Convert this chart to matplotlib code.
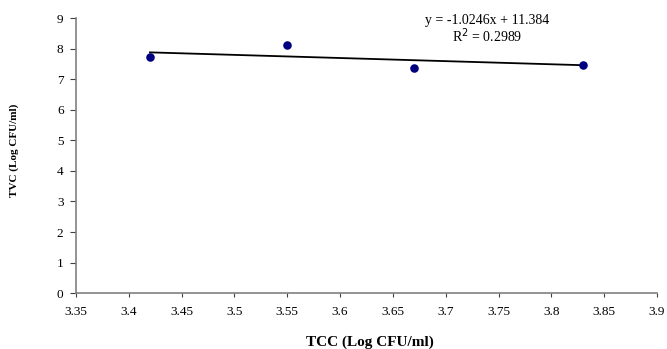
import matplotlib
matplotlib.use('Agg')
import matplotlib.pyplot as plt
import numpy as np
from matplotlib.ticker import FormatStrFormatter, MultipleLocator

# data
tcc = [3.42, 3.55, 3.67, 3.83]
tvc = [7.72, 8.12, 7.38, 7.48]
slope = -1.0246
intercept = 11.384
r2 = 0.2989

plt.rcParams['font.family'] = ['Liberation Serif', 'DejaVu Serif']

fig = plt.figure(figsize=(6.67, 3.49), dpi=100, facecolor='white')
ax = fig.add_axes([0.114, 0.160, 0.871, 0.788])

ax.scatter(tcc, tvc, s=38, color='#000080', zorder=3, linewidths=0)

# linear trendline
xs = np.array([min(tcc), max(tcc)])
ax.plot(xs, slope * xs + intercept, color='black', linewidth=1.3, zorder=2)

ax.set_xlim(3.35, 3.9)
ax.set_ylim(0, 9)
ax.xaxis.set_major_locator(MultipleLocator(0.05))
ax.yaxis.set_major_locator(MultipleLocator(1))
ax.xaxis.set_major_formatter(FormatStrFormatter('%g'))
ax.yaxis.set_major_formatter(FormatStrFormatter('%g'))

for side in ['top', 'right']:
    ax.spines[side].set_visible(False)
for side in ['left', 'bottom']:
    ax.spines[side].set_color('#808080')
    ax.spines[side].set_linewidth(1.2)

ax.tick_params(axis='x', direction='out', length=3, color='#404040',
               labelsize=9.5, pad=6)
ax.tick_params(axis='y', direction='out', length=4, color='#404040',
               labelsize=9.5, pad=5)

ax.set_xlabel('TCC (Log CFU/ml)', fontsize=11, fontweight='bold')
ax.xaxis.set_label_coords(0.505, -0.155)
ax.set_ylabel('TVC (Log CFU/ml)', fontsize=8, fontweight='bold')
ax.yaxis.set_label_coords(-0.098, 0.52)

ax.text(3.739, 8.93, f'y = {slope}x + {intercept}', fontsize=10,
        ha='center', va='center')
ax.text(3.739, 8.44, f'R$^2$ = {r2}', fontsize=10, ha='center', va='center')

fig.savefig('out.png', dpi=100)
